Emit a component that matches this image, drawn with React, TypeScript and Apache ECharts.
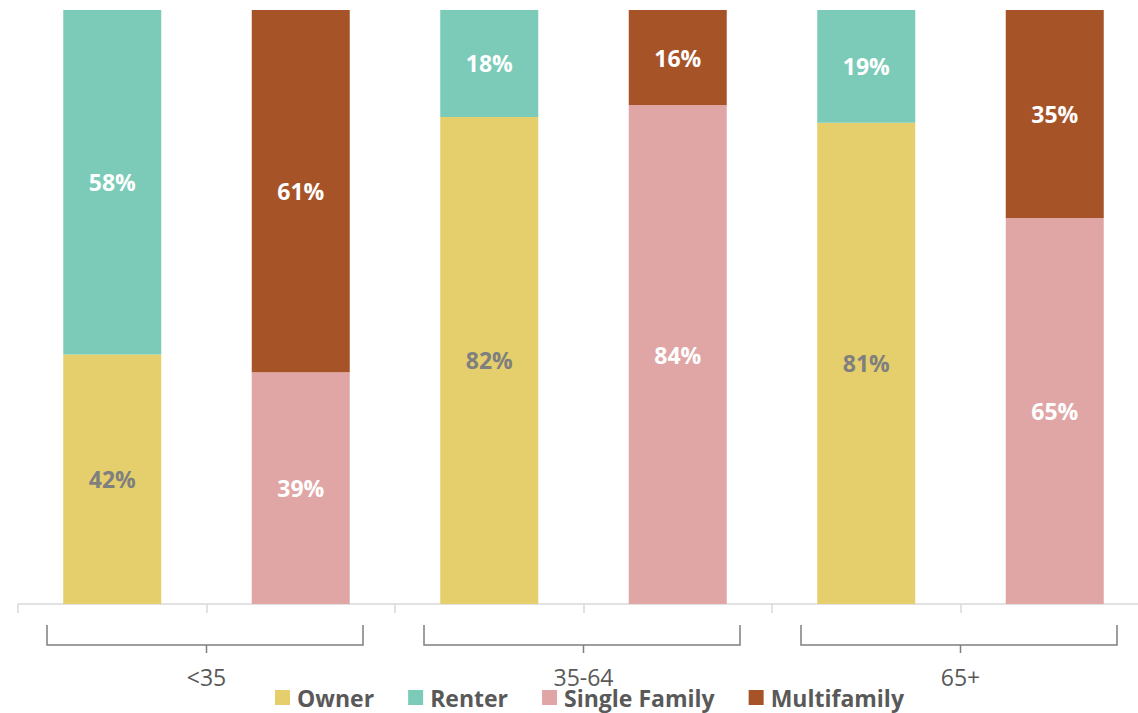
import React, { useEffect, useRef } from "react";
import * as echarts from "echarts";

const categories = ["<35 tenure", "<35 structure", "35-64 tenure", "35-64 structure", "65+ tenure", "65+ structure"];
const groups = ["<35", "35-64", "65+"];
const owner = [42, null, 82, null, 81, null];
const renter = [58, null, 18, null, 19, null];
const singleFamily = [null, 39, null, 84, null, 65];
const multifamily = [null, 61, null, 16, null, 35];

const FONT = "'Open Sans', 'Noto Sans', sans-serif";

export default function App() {
  const ref = useRef<HTMLDivElement>(null);
  useEffect(() => {
    if (!ref.current) return;
    document.body.style.overflow = "hidden";
    const chart = echarts.init(ref.current, undefined, { renderer: "svg" });
    const mk = (name: string, data: (number | null)[], color: string, labelColor: string) => ({
      name,
      type: "bar",
      stack: "all",
      barWidth: 98,
      data: data.map((v) => (v === null ? "-" : v)),
      itemStyle: { color },
      label: {
        show: true,
        position: "inside",
        formatter: (p: any) => Math.round(p.value) + "%",
        color: labelColor,
        fontFamily: FONT,
        fontWeight: "bold",
        fontSize: 23,
      },
    });
    chart.setOption({
      animation: false,
      textStyle: { fontFamily: FONT },
      grid: { left: 18, right: 1, top: 10, bottom: 109, containLabel: false },
      legend: {
        left: 270,
        top: 681,
        icon: "rect",
        itemWidth: 15,
        itemHeight: 15,
        itemGap: 34,
        textStyle: { fontFamily: FONT, fontWeight: "bold", fontSize: 23, color: "#595959", padding: [0, 0, 0, 2] },
        data: ["Owner", "Renter", "Single Family", "Multifamily"],
      },
      xAxis: [
        {
          type: "category",
          data: categories,
          axisLine: { lineStyle: { color: "#d9d9d9", width: 1.5 } },
          axisTick: { show: true, length: 9, lineStyle: { color: "#d9d9d9", width: 1.5 } },
          axisLabel: { show: false },
        },
        {
          type: "category",
          data: groups,
          position: "bottom",
          axisLine: { show: false },
          axisTick: { show: false },
          axisLabel: { margin: 61, fontSize: 23, color: "#595959", fontFamily: FONT },
        },
      ],
      yAxis: { type: "value", min: 0, max: 100, show: false, splitLine: { show: false } },
      series: [
        mk("Owner", owner, "#E5CF6D", "#7F7F7F"),
        mk("Renter", renter, "#7BCBB8", "#FFFFFF"),
        mk("Single Family", singleFamily, "#DFA6A5", "#FFFFFF"),
        mk("Multifamily", multifamily, "#A75328", "#FFFFFF"),
      ],
    });
    const x0 = chart.convertToPixel({ xAxisIndex: 0 }, categories[0]) as number;
    const x1 = chart.convertToPixel({ xAxisIndex: 0 }, categories[1]) as number;
    const band = x1 - x0;
    const axisY = chart.convertToPixel({ yAxisIndex: 0 }, 0) as number;
    const elements: any[] = [];
    groups.forEach((g, i) => {
      const left = (chart.convertToPixel({ xAxisIndex: 0 }, categories[2 * i]) as number) - band / 2;
      const L = left + 29;
      const R = left + 2 * band - 32;
      const C = left + band;
      const style = { stroke: "#7F7F7F", lineWidth: 1.5, fill: "none" };
      elements.push({
        type: "polyline",
        shape: { points: [[L, axisY + 21], [L, axisY + 41], [R, axisY + 41], [R, axisY + 21]] },
        style,
        silent: true,
      });
      elements.push({
        type: "line",
        shape: { x1: C, y1: axisY + 41, x2: C, y2: axisY + 49 },
        style,
        silent: true,
      });
    });
    chart.setOption({ graphic: { elements } });
    return () => chart.dispose();
  }, []);
  return (
    <div
      ref={ref}
      style={{ position: "absolute", left: 0, top: 0, width: 1150, height: 713, background: "#fff" }}
    />
  );
}
